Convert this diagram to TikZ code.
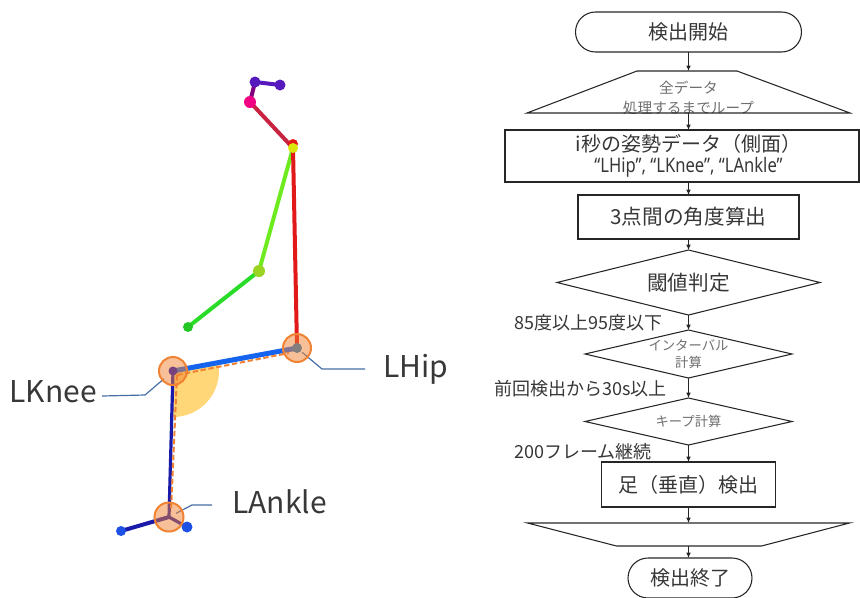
\documentclass[tikz,border=0pt]{standalone}
\usepackage{fontspec}
\setmainfont{Noto Sans CJK JP}
\newfontfamily\latinfont[FakeStretch=0.83]{Noto Sans}
\usetikzlibrary{shapes.geometric,arrows.meta}

\definecolor{jointorange}{RGB}{240,130,50}
\definecolor{thighblue}{RGB}{20,100,240}
\definecolor{shinblue}{RGB}{25,25,170}
\definecolor{footblue}{RGB}{30,80,230}
\definecolor{torsored}{RGB}{225,25,25}
\definecolor{neckred}{RGB}{200,35,65}
\definecolor{headviolet}{RGB}{85,25,190}
\definecolor{nosepink}{RGB}{240,0,130}
\definecolor{armlime}{RGB}{110,235,30}
\definecolor{armgreen}{RGB}{40,220,40}
\definecolor{leaderblue}{RGB}{70,110,165}
\definecolor{anglefill}{RGB}{255,215,120}
\definecolor{flowtext}{RGB}{55,55,55}
\definecolor{subgray}{RGB}{110,110,110}

\begin{document}
\begin{tikzpicture}[x=0.75pt,y=0.75pt,yscale=-1,xscale=1,
  flow/.style={draw=black!85, line width=0.8pt, inner sep=0pt, outer sep=0pt, text=flowtext},
  terminal/.style={flow, rectangle, rounded corners=15pt, minimum height=30pt, font=\fontsize{15}{18}\selectfont},
  procbox/.style={flow, rectangle, font=\fontsize{15}{16}\selectfont},
  decision/.style={flow, diamond, aspect=4, font=\fontsize{15.5}{18}\selectfont},
  loopframe/.style={rectangle, inner sep=0pt, outer sep=0pt},
  loopline/.style={draw=black!85, line width=0.8pt, line join=miter},
  subtext/.style={text=subgray, inner sep=0pt},
  flowarrow/.style={draw=black!85, line width=0.8pt, -{Latex[length=4pt,width=3.5pt]}},
  condtext/.style={font=\fontsize{13.5}{16}\selectfont, text=flowtext, inner sep=0pt},
  bone/.style={line width=3pt, line cap=round},
  jointlabel/.style={font=\fontsize{22.5}{26}\selectfont, text=black!78, inner sep=0pt},
  leader/.style={draw=leaderblue, line width=0.9pt},
  jointring/.style={fill=jointorange, fill opacity=0.5, draw=jointorange, draw opacity=1, line width=1.5pt}]
\useasboundingbox (0,0) rectangle (860,597);

%Skeleton joints
\coordinate (headL) at (255,82);
\coordinate (headR) at (280,85);
\coordinate (nose) at (250,102);
\coordinate (neck) at (293,148);
\coordinate (elbow) at (259,271);
\coordinate (wrist) at (188,327);
\coordinate (hip) at (297,348);
\coordinate (knee) at (173,371);
\coordinate (ankle) at (169,517);
\coordinate (toe) at (121,531);
\coordinate (heel) at (187,527);

%Angle at the knee
\fill[anglefill] (knee) -- ++(-10:46) arc[start angle=-10, end angle=91, radius=46] -- cycle;

%Head and arm
\draw[bone, headviolet] (headL) -- (headR);
\draw[bone, violet] (headL) -- (nose);
\draw[bone, neckred] (nose) -- (neck);
\draw[bone, armlime] (neck) -- (elbow);
\draw[bone, armgreen] (elbow) -- (wrist);
\draw[bone, torsored] (neck) -- (hip);
\fill[headviolet] (headL) circle (5.5) (headR) circle (5.5);
\fill[nosepink] (nose) circle (6);
\fill[torsored] (293,144) circle (5);
\fill[yellow!85!green] (neck) circle (5);
\fill[yellow!60!green] (elbow) circle (6);
\fill[armgreen!90!black] (wrist) circle (5);

%Leg
\draw[line width=3.75pt, thighblue] (knee) -- (hip);
\draw[line width=2.4pt, shinblue] (knee) -- (ankle);
\draw[line width=3pt, shinblue] (ankle) -- (toe);
\draw[line width=2.4pt, shinblue] (ankle) -- (heel);
\fill[footblue] (toe) circle (5) (heel) circle (5.5);
\draw[jointorange, line width=1.5pt, dash pattern=on 4pt off 2pt] ([shift={(4,4)}]knee) -- ([shift={(-8,5)}]hip);
\draw[jointorange, line width=1.5pt, dash pattern=on 4pt off 2pt] ([shift={(4,4)}]knee) -- ([shift={(2,-6)}]ankle);
\fill[cyan!60!blue] (hip) circle (5);
\fill[blue!80!black] (knee) circle (4.5);

%Leader lines
\coordinate (hipbend) at (322,369);
\coordinate (hipend) at (365,369);
\coordinate (kneebend) at (145,395);
\coordinate (kneeend) at (102,396);
\coordinate (anklebend) at (192,505);
\coordinate (ankleend) at (212,505);
\draw[leader, shorten <=5pt] (hip) -- (hipbend) -- (hipend);
\draw[leader, shorten <=9pt] (knee) -- (kneebend) -- (kneeend);
\draw[leader, shorten <=6pt] (ankle) -- (anklebend) -- (ankleend);

%Joint rings
\draw[jointring] (hip) circle (14);
\draw[jointring] (knee) circle (14);
\draw[jointring] (ankle) circle (14.5);

% Text Node
\node[jointlabel, anchor=base west] (lhip) at (383,377) {LHip};
% Text Node
\node[jointlabel, anchor=base east] (lknee) at (97,402) {LKnee};
% Text Node
\node[jointlabel, anchor=base west] (lankle) at (232,513) {LAnkle};

%Flowchart
\node[terminal, minimum width=169.5pt] (start) at (688.5,32) {検出開始};
\node[loopframe, minimum width=242.25pt, minimum height=31.5pt,
  label={[subtext, align=center, font=\fontsize{11}{14.5}\selectfont, yshift=-4.5pt]center:全データ\\処理するまでループ}] (loopA) at (688.5,92) {};
\draw[loopline] (loopA.south west) -- ([shift={(110,0)}]loopA.north west) -- ([shift={(-113,0)}]loopA.north east) -- (loopA.south east) -- cycle;
\node[procbox, minimum width=265.5pt, minimum height=39pt,
  label={[align=center, inner sep=0pt, text=flowtext, font=\fontsize{15}{16}\selectfont, xshift=4.9pt]center:i秒の姿勢データ（側面）\\{\latinfont\fontsize{15}{16}\selectfont “LHip”, “LKnee”, “LAnkle”}}] (posedata) at (682,156) {};
\node[procbox, minimum width=165.75pt, minimum height=33pt, font=\fontsize{15.5}{18}\selectfont] (angle) at (688.5,217) {3点間の角度算出};
\node[decision, minimum width=197.25pt, minimum height=48.75pt] (thresh) at (688.5,282.5) {閾値判定};
\node[decision, minimum width=155.25pt, minimum height=36pt,
  label={[subtext, align=center, font=\fontsize{10}{12.5}\selectfont]center:インターバル\\計算}] (interval) at (688.5,354) {};
\node[decision, minimum width=155.25pt, minimum height=35.25pt,
  label={[subtext, font=\fontsize{10}{12.5}\selectfont]center:キープ計算}] (keep) at (688.5,421.5) {};
\node[procbox, minimum width=130.5pt, minimum height=33.75pt] (detect) at (688.5,484.5) {足（垂直）検出};
\node[loopframe, minimum width=241.5pt, minimum height=17.25pt] (loopB) at (688.5,534.5) {};
\draw[loopline] (loopB.north west) -- (loopB.north east) -- ([shift={(-88,0)}]loopB.south east) -- ([shift={(89,0)}]loopB.south west) -- cycle;
\node[terminal, minimum width=93pt] (stop) at (690,578) {検出終了};

%Arrows
\draw[flowarrow] (start) -- (loopA);
\draw[flowarrow] (loopA) -- (loopA |- posedata.north);
\draw[flowarrow] (posedata.south -| angle) -- (angle);
\draw[flowarrow] (angle) -- (thresh);
\draw[flowarrow] (thresh) -- (interval);
\draw[flowarrow] (interval) -- (keep);
\draw[flowarrow] (keep) -- (detect);
\draw[flowarrow] (detect) -- (loopB);
\draw[flowarrow] (loopB) -- (loopB |- stop.north);

% Text Node
\node[condtext, anchor=east] (cond1) at (663,323) {85度以上95度以下};
% Text Node
\node[condtext, anchor=east] (cond2) at (667,389) {前回検出から30s以上};
% Text Node
\node[condtext, anchor=east] (cond3) at (652,452) {200フレーム継続};

\end{tikzpicture}
\end{document}
